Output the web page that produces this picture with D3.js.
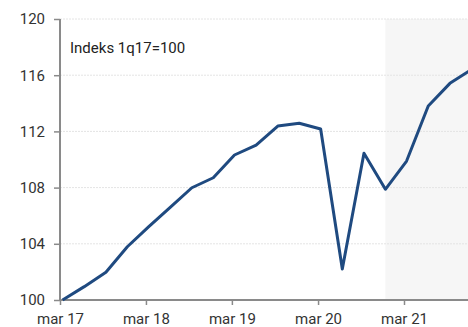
<!DOCTYPE html>
<html>
<head>
<meta charset="utf-8">
<script src="https://cdn.jsdelivr.net/npm/d3@7"></script>
<style>
  html, body { margin: 0; padding: 0; background: #fff; }
  svg { display: block; font-family: Roboto, "Open Sans", sans-serif; }
</style>
</head>
<body>
<svg id="chart" width="468" height="327"></svg>
<script>
// Quarterly index, 1q17 = 100 (last quarters are forecast, shaded)
const quarters = ["1q17","2q17","3q17","4q17","1q18","2q18","3q18","4q18",
                  "1q19","2q19","3q19","4q19","1q20","2q20","3q20","4q20",
                  "1q21","2q21","3q21","4q21"];
const indexValues = [100.0, 100.95, 101.97, 103.79, 105.2, 106.6, 107.99, 108.7,
                     110.32, 111.03, 112.38, 112.58, 112.17, 102.21, 110.44, 107.88,
                     109.89, 113.81, 115.42, 116.4];
const yTicks = [100, 104, 108, 112, 116, 120];
const xTickYears = [2017, 2018, 2019, 2020, 2021];
const forecastStart = "4q20";
const annotation = "Indeks 1q17=100";

// quarter label -> date in the last month of the quarter
function qDate(q) {
  const qi = +q[0], yr = 2000 + +q.slice(2);
  return new Date(yr, qi * 3 - 1, 12);
}
const data = quarters.map((q, i) => ({ date: qDate(q), value: indexValues[i] }));

const svg = d3.select("#chart");
const W = 468, H = 327;
const plotLeft = 60, plotTop = 19, plotBottom = 300;

const x = d3.scaleTime()
  .domain([new Date(2017, 2, 1), new Date(2021, 2, 1)])
  .range([plotLeft, 404]);
const y = d3.scaleLinear().domain([100, 120]).range([plotBottom, plotTop]);

// forecast shading
const xf = x(qDate(forecastStart));
svg.append("rect")
  .attr("x", xf).attr("y", y(120))
  .attr("width", W - xf).attr("height", y(100) - y(120))
  .attr("fill", "#f6f6f6");

// gridlines
svg.append("g").selectAll("line")
  .data(yTicks.filter(t => t > 100))
  .join("line")
  .attr("x1", plotLeft).attr("x2", W)
  .attr("y1", d => y(d)).attr("y2", d => y(d))
  .attr("stroke", "#e4e4e4").attr("stroke-width", 1)
  .attr("stroke-dasharray", "2,1");

// y axis
const yAxis = svg.append("g")
  .attr("transform", `translate(${plotLeft},0)`)
  .call(d3.axisLeft(y).tickValues(yTicks).tickSize(6).tickPadding(9).tickFormat(d3.format("d")));
yAxis.select(".domain").attr("stroke", "#8a8a8a").attr("stroke-width", 2).attr("d", `M0,${y(120)}V${y(100)}`);
yAxis.selectAll(".tick line").attr("stroke", "#8a8a8a").attr("stroke-width", 1.5);
yAxis.selectAll(".tick text").attr("fill", "#333").style("font-size", "15px")
  .style("font-family", "Roboto, sans-serif");

// x axis
const xAxis = svg.append("g")
  .attr("transform", `translate(0,${plotBottom})`)
  .call(d3.axisBottom(x)
    .tickValues(xTickYears.map(yr => new Date(yr, 2, 1)))
    .tickSize(5).tickPadding(8)
    .tickFormat(d => "mar " + String(d.getFullYear()).slice(2)));
xAxis.select(".domain").attr("stroke", "#8a8a8a").attr("stroke-width", 2).attr("d", `M${plotLeft},0H${W}`);
xAxis.selectAll(".tick line").attr("stroke", "#8a8a8a").attr("stroke-width", 1.5);
xAxis.selectAll(".tick text").attr("fill", "#333").style("font-size", "15px")
  .style("font-family", "Roboto, sans-serif");

// index line
svg.append("path")
  .datum(data)
  .attr("fill", "none")
  .attr("stroke", "#1f4a80")
  .attr("stroke-width", 3)
  .attr("stroke-linejoin", "round")
  .attr("d", d3.line().x(d => x(d.date)).y(d => y(d.value)));

// annotation
svg.append("text")
  .attr("x", 70).attr("y", 53)
  .attr("fill", "#222")
  .style("font-size", "15px")
  .text(annotation);
</script>
</body>
</html>
